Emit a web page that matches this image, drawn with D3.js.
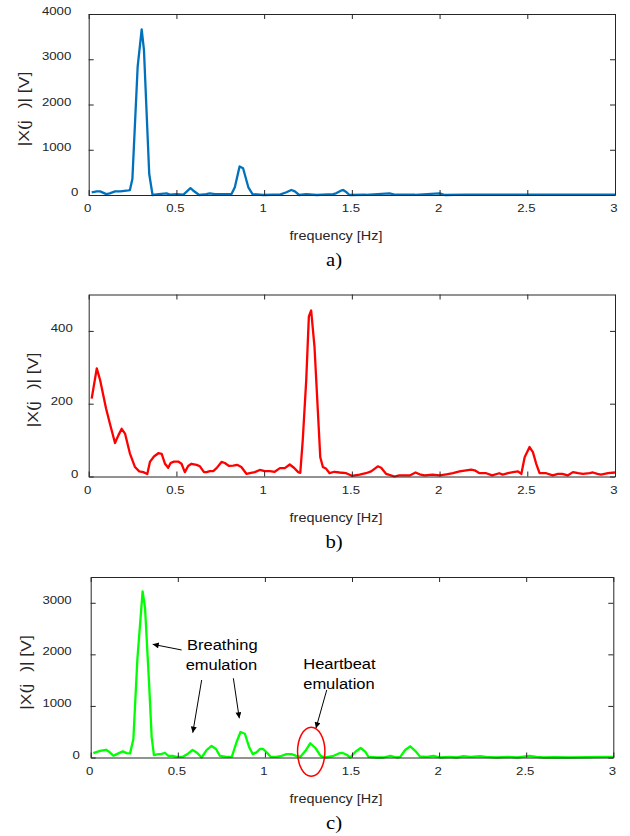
<!DOCTYPE html>
<html><head><meta charset="utf-8">
<script src="https://cdn.jsdelivr.net/npm/d3@7"></script>
<style>
html,body{margin:0;padding:0;background:#fff;}
svg{display:block;}
</style></head>
<body>
<svg id="chart" width="630" height="836"></svg>
<script>
// ---------------- DATA ----------------
const xTicks = [0, 0.5, 1, 1.5, 2, 2.5, 3];
const xTickLabels = ["0", "0.5", "1", "1.5", "2", "2.5", "3"];

const yTicksA = [0, 1000, 2000, 3000, 4000];
const yTicksB = [0, 200, 400];
const yTicksC = [0, 1000, 2000, 3000];

const freqA = [0.017,0.046,0.065,0.10,0.12,0.15,0.18,0.226,0.235,0.249,0.279,0.302,0.315,0.345,0.364,0.40,0.444,0.463,0.5,0.54,0.58,0.595,0.63,0.67,0.69,0.72,0.76,0.814,0.833,0.86,0.88,0.91,0.934,0.994,1.05,1.09,1.127,1.155,1.175,1.2,1.24,1.30,1.394,1.41,1.44,1.45,1.47,1.487,1.58,1.715,1.75,1.86,2.0,2.03,2.15,2.34,2.53,2.72,2.91,3.0];
const magA  = [60,80,80,20,35,80,80,100,110,355,2830,3660,3200,465,0,20,37,10,20,10,150,100,0,20,37,20,20,20,170,630,590,170,20,0,5,10,60,110,80,0,20,0,20,37,100,110,60,0,5,37,5,5,37,0,8,5,10,5,10,5];

const freqB = [0.017,0.046,0.065,0.099,0.121,0.15,0.169,0.188,0.207,0.235,0.264,0.288,0.311,0.334,0.349,0.372,0.397,0.416,0.435,0.453,0.467,0.486,0.51,0.529,0.548,0.567,0.586,0.615,0.634,0.657,0.672,0.691,0.71,0.729,0.757,0.776,0.8,0.824,0.846,0.87,0.9,0.918,0.947,0.975,1.004,1.032,1.06,1.09,1.118,1.146,1.17,1.194,1.206,1.22,1.24,1.255,1.268,1.287,1.306,1.32,1.335,1.354,1.373,1.40,1.43,1.468,1.5,1.544,1.58,1.61,1.648,1.667,1.696,1.743,1.77,1.83,1.863,1.886,1.914,1.96,2.0,2.04,2.076,2.114,2.152,2.18,2.2,2.228,2.266,2.30,2.34,2.36,2.39,2.418,2.447,2.466,2.485,2.513,2.532,2.551,2.57,2.608,2.645,2.675,2.70,2.73,2.76,2.79,2.817,2.855,2.874,2.90,2.92,2.96,3.0];
const magB  = [214,297,265,187,145,92,113,131,118,63,26,14,12,7,40,55,64,62,35,24,37,41,41,35,12,29,35,32,28,12,12,15,15,23,40,37,29,30,32,26,7,9,12,18,15,15,13,23,23,33,24,12,10,99,265,440,456,357,182,53,26,21,9,13,11,9,2,5,9,14,28,24,7,0,3,3,11,6,3,5,3,6,9,14,17,19,17,9,9,3,9,5,9,12,14,7,53,81,67,35,9,9,3,7,7,3,12,9,7,9,11,7,5,9,11];

const freqC = [0.015,0.054,0.088,0.11,0.13,0.159,0.184,0.206,0.226,0.245,0.268,0.298,0.312,0.336,0.35,0.363,0.388,0.405,0.426,0.446,0.47,0.493,0.53,0.56,0.585,0.608,0.637,0.665,0.694,0.719,0.742,0.78,0.81,0.837,0.86,0.885,0.91,0.93,0.952,0.971,0.99,1.01,1.033,1.067,1.096,1.124,1.153,1.18,1.204,1.233,1.26,1.29,1.32,1.347,1.395,1.424,1.443,1.47,1.49,1.52,1.55,1.576,1.595,1.643,1.68,1.72,1.758,1.777,1.805,1.834,1.863,1.89,1.93,1.968,2.006,2.06,2.1,2.14,2.18,2.235,2.27,2.33,2.39,2.45,2.52,2.56,2.6,2.66,2.75,2.85,2.95,3.0];
const magC  = [85,130,150,100,33,80,118,85,80,360,1910,3220,2900,1380,395,46,66,66,92,33,33,13,13,79,145,99,0,145,224,165,33,13,13,296,494,461,197,66,99,165,165,99,13,13,33,66,66,33,13,130,276,184,33,0,33,79,92,53,0,112,184,112,13,0,0,33,0,13,145,217,130,20,13,33,0,13,0,26,13,26,13,0,13,0,33,13,0,5,0,5,13,13];

const panelLabels = ["a)", "b)", "c)"];
const xTitle = "frequency [Hz]";
const colors = ["#0072BD", "#FF0000", "#00FF00"];

// ---------------- LAYOUT ----------------
const SANS = "'Liberation Sans', Arial, sans-serif";
const SERIF = "'Liberation Serif', 'Times New Roman', serif";
const panels = [
  {freq: freqA, mag: magA, yTicks: yTicksA, ymax: 4000, left: 88.7, right: 615, top: 14, bottom: 195, color: colors[0], label: panelLabels[0], ylab: [24, 109], zeroDx: 10.5, lblDx: 17.5},
  {freq: freqB, mag: magB, yTicks: yTicksB, ymax: 500, left: 88.7, right: 615, top: 294.5, bottom: 476.5, color: colors[1], label: panelLabels[1], ylab: [33, 390], zeroDx: 10.5, lblDx: 16},
  {freq: freqC, mag: magC, yTicks: yTicksC, ymax: 3500, left: 90.7, right: 613.3, top: 577, bottom: 757.5, color: colors[2], label: panelLabels[2], ylab: [26, 672.5], zeroDx: 11, lblDx: 19}
];

const svg = d3.select("#chart");
const frameColor = "#262626";
const SX = 1.2;

panels.forEach((p, i) => {
  const x = d3.scaleLinear().domain([0, 3]).range([p.left, p.right]);
  const y = d3.scaleLinear().domain([0, p.ymax]).range([p.bottom, p.top]);
  p.x = x; p.y = y;
  const g = svg.append("g");

  // line
  const pts = p.freq.map((f, k) => [f, p.mag[k]]);
  g.append("path")
    .datum(pts)
    .attr("fill", "none")
    .attr("stroke", p.color)
    .attr("stroke-width", 2.3)
    .attr("stroke-linejoin", "round")
    .attr("d", d3.line().x(d => x(d[0])).y(d => y(d[1])));

  // axes
  const bottom = g.append("g").attr("transform", `translate(0,${p.bottom})`)
    .call(d3.axisBottom(x).tickValues(xTicks).tickFormat((d, k) => xTickLabels[k]).tickSizeInner(-5).tickSizeOuter(0));
  const top = g.append("g").attr("transform", `translate(0,${p.top})`)
    .call(d3.axisTop(x).tickValues(xTicks).tickFormat("").tickSizeInner(-5).tickSizeOuter(0));
  const left = g.append("g").attr("transform", `translate(${p.left},0)`)
    .call(d3.axisLeft(y).tickValues(p.yTicks).tickFormat(d3.format("d")).tickSizeInner(-5).tickSizeOuter(0));
  const right = g.append("g").attr("transform", `translate(${p.right},0)`)
    .call(d3.axisRight(y).tickValues(p.yTicks).tickFormat("").tickSizeInner(-5).tickSizeOuter(0));

  [bottom, top, left, right].forEach(a => {
    a.select(".domain").attr("stroke", frameColor).attr("stroke-width", 1);
    a.selectAll(".tick line").attr("stroke", frameColor).attr("stroke-width", 1);
    a.selectAll("text").style("font-family", SANS).attr("fill", "#262626");
  });
  bottom.selectAll("text")
    .attr("font-size", 11).attr("y", 17.5).attr("dy", 0).attr("x", -1.5 / SX)
    .attr("transform", `scale(${SX},1)`);
  left.selectAll("text")
    .attr("font-size", 11).attr("dy", 0).attr("y", 0.5)
    .attr("x", d => -(d === 0 ? p.zeroDx : p.lblDx) / SX)
    .attr("transform", `scale(${SX},1)`);

  // x title
  g.append("text").attr("transform", `translate(336,${p.bottom + 45}) scale(${SX},1)`)
    .attr("text-anchor", "middle").attr("font-size", 12).attr("fill", "#262626")
    .style("font-family", SANS)
    .text(xTitle);

  // panel label
  g.append("text").attr("transform", `translate(334,${p.bottom + 71}) scale(1.15,1)`)
    .attr("text-anchor", "middle").attr("font-size", 18)
    .style("font-family", SERIF).attr("fill", "#000")
    .text(p.label);

  // y label (omega glyph missing in the original)
  const yl = g.append("text")
    .attr("transform", `translate(${p.ylab[0] + 5},${p.ylab[1]}) rotate(-90) scale(1.25,1)`)
    .attr("text-anchor", "middle").attr("font-size", 14).attr("fill", "#262626")
    .style("font-family", SANS);
  yl.append("tspan").text("|X(j");
  yl.append("tspan").attr("dx", 12 / 1.25).text(")| [V]");
});

// ---------------- ANNOTATIONS (panel c, in data coordinates) ----------------
const pc = panels[2];
const defs = svg.append("defs");
defs.append("marker").attr("id", "ah").attr("viewBox", "0 0 10 10")
  .attr("refX", 10).attr("refY", 5).attr("markerWidth", 8).attr("markerHeight", 6)
  .attr("markerUnits", "userSpaceOnUse").attr("orient", "auto")
  .append("path").attr("d", "M0,0 L10,5 L0,10 Z").attr("fill", "#000");

const arrowsC = [
  {from: [0.522, 2085], to: [0.356, 2195]},
  {from: [0.637, 1503], to: [0.586, 481]},
  {from: [0.819, 1536], to: [0.853, 760]},
  {from: [1.355, 1309], to: [1.293, 566]}
];
const gA = svg.append("g");
arrowsC.forEach(a => {
  gA.append("line")
    .attr("x1", pc.x(a.from[0])).attr("y1", pc.y(a.from[1]))
    .attr("x2", pc.x(a.to[0])).attr("y2", pc.y(a.to[1]))
    .attr("stroke", "#000").attr("stroke-width", 1)
    .attr("marker-end", "url(#ah)");
});
const notesC = [
  {f: 0.553, v: 2085, t: "Breathing"},
  {f: 0.545, v: 1697, t: "emulation"},
  {f: 1.22, v: 1710, t: "Heartbeat"},
  {f: 1.22, v: 1328, t: "emulation"}
];
notesC.forEach(n => {
  gA.append("text")
    .attr("transform", `translate(${pc.x(n.f)},${pc.y(n.v)}) scale(1.1,1)`)
    .attr("font-size", 15).attr("fill", "#000").style("font-family", SANS).text(n.t);
});
gA.append("ellipse")
  .attr("cx", pc.x(1.266)).attr("cy", pc.y(112))
  .attr("rx", 13.7).attr("ry", 24.5)
  .attr("fill", "none").attr("stroke", "#FF0000").attr("stroke-width", 1.5);
</script>
</body></html>
